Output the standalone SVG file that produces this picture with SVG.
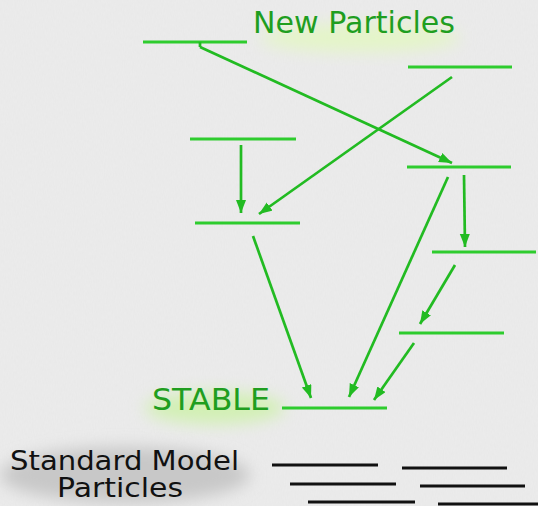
<svg xmlns="http://www.w3.org/2000/svg" width="538" height="506" viewBox="0 0 538 506">
<defs>
<style>
.lvl{stroke:#2ecc2e;stroke-width:3;fill:none}
.sm{stroke:#111;stroke-width:3;fill:none}
.arr{stroke:#22bb22;stroke-width:2.7;fill:none;marker-end:url(#ah)}
.gt{font-family:"DejaVu Sans","Liberation Sans",sans-serif;fill:#1f9e1f}
.bt{font-family:"DejaVu Sans","Liberation Sans",sans-serif;fill:#111}
</style>
<marker id="ah" markerUnits="userSpaceOnUse" markerWidth="14" markerHeight="11" refX="13" refY="5" orient="auto">
<path d="M0,0 L13,5 L0,10 z" fill="#22bb22"/>
</marker>
<filter id="blur" x="-50%" y="-50%" width="200%" height="200%"><feGaussianBlur stdDeviation="8"/></filter>
<filter id="paper" x="0" y="0" width="100%" height="100%">
<feTurbulence type="fractalNoise" baseFrequency="0.9 0.25" numOctaves="2" seed="3" result="n"/>
<feColorMatrix in="n" type="matrix" values="0 0 0 0 0.5  0 0 0 0 0.5  0 0 0 0 0.5  0 0 0 0.08 0"/>
</filter>
</defs>
<rect width="538" height="506" fill="#ececec"/>
<rect width="538" height="506" filter="url(#paper)"/>
<g id="glows">
<ellipse cx="360" cy="38" rx="100" ry="14" fill="#e4f5c8" filter="url(#blur)"/>
<ellipse cx="215" cy="408" rx="70" ry="16" fill="#d2f0b4" filter="url(#blur)"/>
<ellipse cx="125" cy="475" rx="125" ry="28" fill="#c8c8c8" filter="url(#blur)"/>
</g>
<g id="texts">
<text class="gt" x="253" y="33" font-size="30" textLength="202" lengthAdjust="spacingAndGlyphs">New Particles</text>
<text class="gt" x="152" y="410" font-size="30" textLength="118" lengthAdjust="spacingAndGlyphs">STABLE</text>
<text class="bt" x="10" y="470" font-size="26" textLength="229" lengthAdjust="spacingAndGlyphs">Standard Model</text>
<text class="bt" x="57" y="497" font-size="26" textLength="126" lengthAdjust="spacingAndGlyphs">Particles</text>
</g>
<g id="n1"><line class="lvl" x1="143" y1="42" x2="247" y2="42"/></g>
<g id="n2"><line class="lvl" x1="408" y1="67" x2="512" y2="67"/></g>
<g id="n3"><line class="lvl" x1="190" y1="139" x2="296" y2="139"/></g>
<g id="n4"><line class="lvl" x1="407" y1="167" x2="511" y2="167"/></g>
<g id="n5"><line class="lvl" x1="195" y1="223" x2="300" y2="223"/></g>
<g id="n6"><line class="lvl" x1="432" y1="252" x2="536" y2="252"/></g>
<g id="n7"><line class="lvl" x1="399" y1="333" x2="504" y2="333"/></g>
<g id="stable"><line class="lvl" x1="282" y1="408" x2="387" y2="408"/></g>
<g id="sm">
<line class="sm" x1="272" y1="465" x2="378" y2="465"/>
<line class="sm" x1="402" y1="468" x2="507" y2="468"/>
<line class="sm" x1="290" y1="484" x2="396" y2="484"/>
<line class="sm" x1="420" y1="486" x2="525" y2="486"/>
<line class="sm" x1="308" y1="502" x2="415" y2="502"/>
<line class="sm" x1="438" y1="504" x2="540" y2="504"/>
</g>
<g id="connectors">
<path d="M200,42 L200,47" stroke="#22bb22" stroke-width="2.7"/>
<line class="arr" x1="200" y1="47" x2="452" y2="163"/>
<line class="arr" x1="452" y1="77" x2="259" y2="214"/>
<line class="arr" x1="241" y1="145" x2="241" y2="213"/>
<line class="arr" x1="253" y1="236" x2="311" y2="398"/>
<line class="arr" x1="448" y1="177" x2="349" y2="397"/>
<line class="arr" x1="464" y1="175" x2="465" y2="247"/>
<line class="arr" x1="455" y1="265" x2="420" y2="324"/>
<line class="arr" x1="414" y1="343" x2="374" y2="400"/>
</g>
</svg>
